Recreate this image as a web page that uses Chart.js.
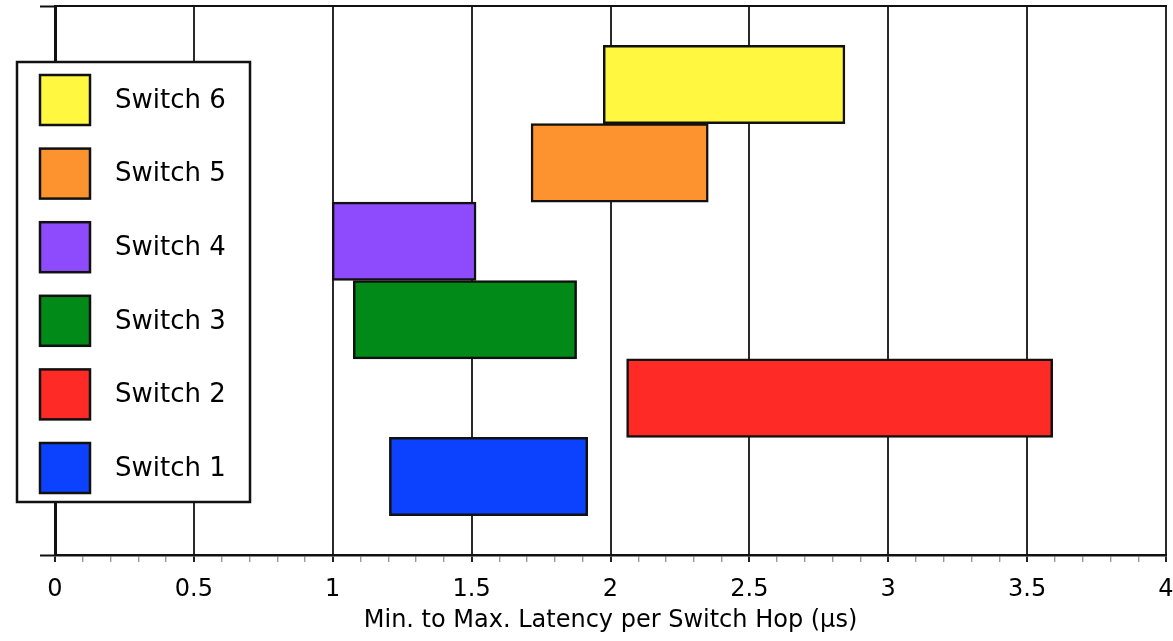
<!DOCTYPE html>
<html>
<head>
<meta charset="utf-8">
<script src="https://cdn.jsdelivr.net/npm/chart.js@4/dist/chart.umd.min.js"></script>
<style>
  html, body { margin: 0; padding: 0; background: #fff; }
  #wrap { width: 1173px; height: 641px; }
</style>
</head>
<body>
<div id="wrap"><canvas id="c" width="1173" height="641"></canvas></div>
<script>
const categories = ['Switch 1', 'Switch 2', 'Switch 3', 'Switch 4', 'Switch 5', 'Switch 6'];
const minLatency = [1.204, 2.058, 1.074, 0.998, 1.714, 1.974];
const maxLatency = [1.918, 3.592, 1.878, 1.516, 2.352, 2.844];
const colors = ['#0c42fe', '#fe2a25', '#018a18', '#8e4bfd', '#fd932f', '#fff740'];
const majorTicks = [0, 0.5, 1, 1.5, 2, 2.5, 3, 3.5, 4];
const axisTitle = 'Min. to Max. Latency per Switch Hop (\u03BCs)';

const FONT = "'DejaVu Sans', 'Liberation Sans', Arial, sans-serif";

function isMajor(v) {
  return majorTicks.some(m => Math.abs(m - v) < 1e-6);
}

const barData = categories.map((c, i) => ({ x: [minLatency[i], maxLatency[i]], y: i + 1 }));

const legendPlugin = {
  id: 'boxLegend',
  afterDraw(chart) {
    const ctx = chart.ctx;
    ctx.save();
    const bx = 17, by = 62, bw = 233, bh = 440;
    ctx.fillStyle = '#fff';
    ctx.fillRect(bx, by, bw, bh);
    ctx.lineWidth = 2.5;
    ctx.strokeStyle = '#111';
    ctx.strokeRect(bx, by, bw, bh);
    ctx.font = '26px ' + FONT;
    ctx.textBaseline = 'middle';
    ctx.textAlign = 'left';
    const n = categories.length;
    for (let k = 0; k < n; k++) {
      const i = n - 1 - k;
      const sy = 75 + k * 73.6;
      ctx.fillStyle = colors[i];
      ctx.fillRect(40, sy, 50, 50);
      ctx.lineWidth = 2.5;
      ctx.strokeStyle = '#111';
      ctx.strokeRect(40, sy, 50, 50);
      ctx.fillStyle = '#000';
      ctx.fillText(categories[i], 115, sy + 26);
    }
    ctx.restore();
  }
};

new Chart(document.getElementById('c'), {
  type: 'bar',
  data: {
    datasets: [{
      label: 'Latency',
      data: barData,
      backgroundColor: colors,
      borderColor: '#111',
      borderWidth: 2.5,
      borderSkipped: false,
      barPercentage: 1,
      categoryPercentage: 1
    }]
  },
  options: {
    indexAxis: 'y',
    responsive: false,
    animation: false,
    layout: { padding: { left: 0, right: 7, top: 0, bottom: 0 } },
    plugins: {
      legend: { display: false },
      tooltip: { enabled: false }
    },
    scales: {
      x: {
        type: 'linear',
        position: 'bottom',
        min: 0,
        max: 4,
        ticks: {
          stepSize: 0.1,
          autoSkip: false,
          maxRotation: 0,
          padding: 13,
          color: '#000',
          font: { family: FONT, size: 24 },
          callback: (v) => isMajor(v) ? String(Math.round(v * 10) / 10) : ''
        },
        grid: {
          drawOnChartArea: true,
          tickLength: 7,
          lineWidth: (c) => (c.tick && isMajor(c.tick.value)) ? 2 : 1.4,
          color: (c) => (c.tick && isMajor(c.tick.value)) ? '#2a2a2a' : 'rgba(0,0,0,0)',
          tickColor: (c) => (c.tick && isMajor(c.tick.value)) ? '#222' : '#999'
        },
        border: { display: true, color: '#111', width: 2.5 },
        title: {
          display: true,
          text: axisTitle,
          color: '#000',
          font: { family: FONT, size: 24 },
          padding: { top: 0, bottom: 6 }
        },
        afterFit(scale) { scale.height = 86; scale.paddingLeft = 0; scale.paddingRight = 0; }
      },
      x2: {
        type: 'linear',
        position: 'top',
        min: 0,
        max: 4,
        ticks: { display: false },
        grid: { display: true, drawOnChartArea: false, drawTicks: false },
        border: { display: true, color: '#111', width: 2 },
        afterFit(scale) { scale.height = 6; scale.paddingLeft = 0; scale.paddingRight = 0; }
      },
      y: {
        type: 'linear',
        position: 'left',
        offset: false,
        min: 0,
        max: 7,
        afterBuildTicks(scale) { scale.ticks = [{ value: 0 }, { value: 7 }]; },
        ticks: { display: false },
        grid: {
          offset: false,
          drawOnChartArea: false,
          tickLength: 15,
          tickColor: '#111',
          tickWidth: 2,
          color: '#111'
        },
        border: { display: true, color: '#111', width: 3 },
        afterFit(scale) { scale.width = 55; }
      }
    }
  },
  plugins: [legendPlugin]
});
</script>
</body>
</html>
